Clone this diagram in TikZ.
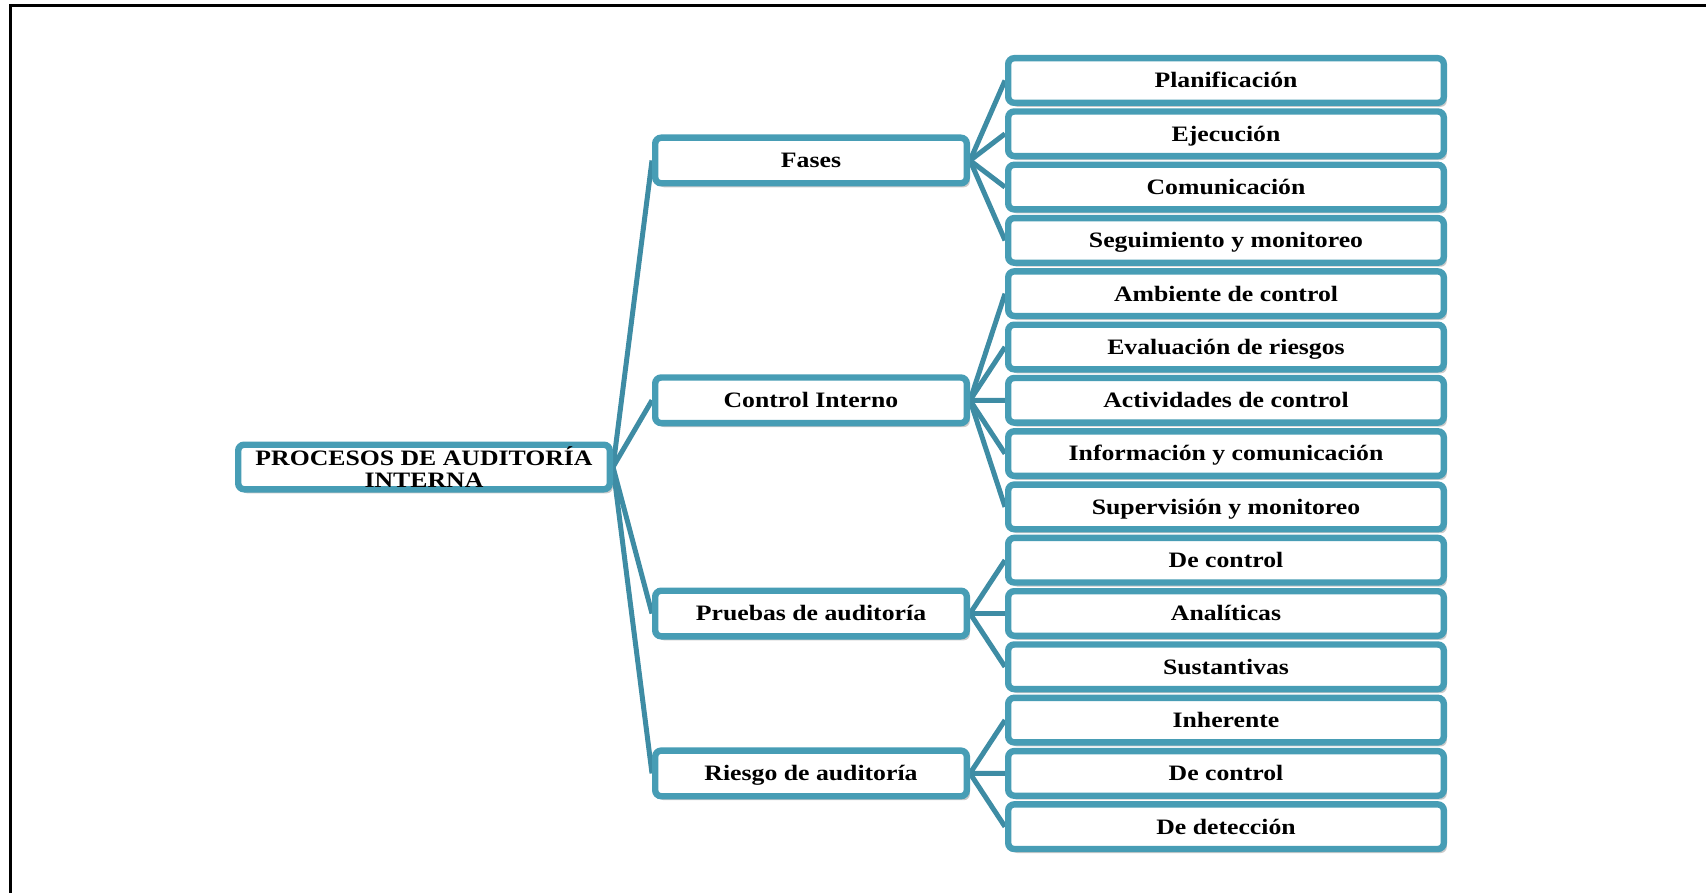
\documentclass[tikz,border=0pt]{standalone}
\usepackage{fontspec}
\setmainfont{Liberation Serif}[FakeStretch=1.17]
\usetikzlibrary{shadows,backgrounds}
\definecolor{audTeal}{RGB}{71,157,181}
\definecolor{audLine}{RGB}{62,140,164}

\tikzset{
  box/.style={draw=audTeal, line width=3.2pt, rounded corners=3pt, fill=white,
    drop shadow={shadow xshift=1.5pt, shadow yshift=-2pt, opacity=0.35, fill=black!60},
    font=\fontsize{11}{12}\selectfont\bfseries, inner sep=0pt,
    text height=7.3pt, text depth=0pt},
  rootbox/.style={box, minimum width=185.8pt, minimum height=22.3pt, align=center,
    text height=, text depth=, font=\fontsize{11}{11}\selectfont\bfseries},
  midbox/.style={box, minimum width=155.8pt, minimum height=22.8pt},
  leafbox/.style={box, minimum width=217.8pt, minimum height=22.3pt},
  link/.style={draw=audLine, line width=2.5pt}
}

\begin{document}
\begin{tikzpicture}[x=0.5pt, y=-0.5pt]
  \useasboundingbox (0,0) rectangle (1706,893);
  % frame
  \draw[line width=1.5pt] (10.5,893) -- (10.5,6) -- (1706,6);

  % root and first level
  \node[rootbox] (root) at (424,467) {PROCESOS DE AUDITORÍA\\INTERNA};
  \node[midbox] (fases)   at (811,160.5) {Fases};
  \node[midbox] (control) at (811,400.3) {Control Interno};
  \node[midbox] (pruebas) at (811,613.5) {Pruebas de auditoría};
  \node[midbox] (riesgo)  at (811,773.4) {Riesgo de auditoría};

  % leaves
  \foreach \name/\txt [count=\i from 0] in {
      plan/Planificación, ejec/Ejecución, comu/Comunicación,
      segu/Seguimiento y monitoreo, ambi/Ambiente de control,
      eval/Evaluación de riesgos, acti/Actividades de control,
      info/Información y comunicación, supe/Supervisión y monitoreo,
      pcon/De control, anal/Analíticas, sust/Sustantivas,
      inhe/Inherente, rcon/De control, dete/De detección}
    \node[leafbox] (\name) at (1226,80.5+53.3*\i) {\txt};

  % connectors
  \begin{scope}[on background layer]
    \foreach \p/\c in {root/fases, root/control, root/pruebas, root/riesgo,
        fases/plan, fases/ejec, fases/comu, fases/segu,
        control/ambi, control/eval, control/acti, control/info, control/supe,
        pruebas/pcon, pruebas/anal, pruebas/sust,
        riesgo/inhe, riesgo/rcon, riesgo/dete}
      \draw[link] (\p.east) -- (\c.west);
  \end{scope}
\end{tikzpicture}
\end{document}
